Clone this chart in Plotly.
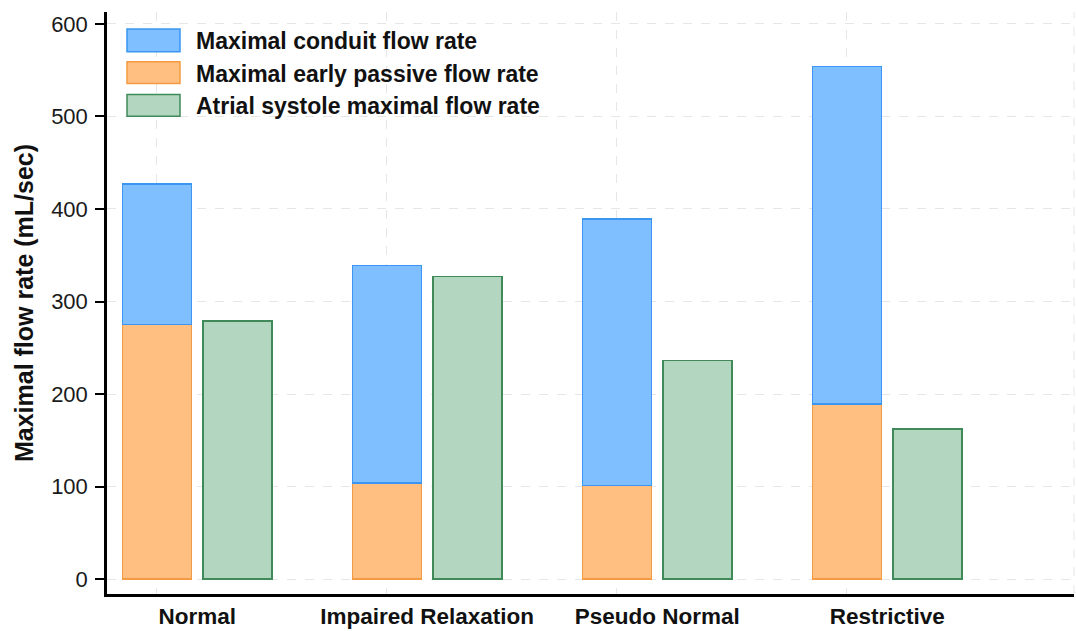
import plotly.graph_objects as go

categories = ["Normal", "Impaired Relaxation", "Pseudo Normal", "Restrictive"]
series_names = ["Maximal conduit flow rate", "Maximal early passive flow rate",
                "Atrial systole maximal flow rate"]
early_passive = [275, 104, 101, 189]
conduit = [152, 235, 288, 365]
atrial = [279, 327, 236, 162]
y_ticks = [0, 100, 200, 300, 400, 500, 600]

fills = ["#80bfff", "#ffbf80", "#b3d6c0"]
edges = ["#3a96f2", "#f59a42", "#3f8a58"]

pos = [1, 2, 3, 4]
off = 0.35
w = 0.3

fig = go.Figure()
fig.add_bar(x=pos, y=early_passive, width=w, name=series_names[1],
            marker=dict(color=fills[1], line=dict(color=edges[1], width=1.5)))
fig.add_bar(x=pos, y=conduit, width=w, name=series_names[0],
            marker=dict(color=fills[0], line=dict(color=edges[0], width=1.5)))
fig.add_bar(x=[p + off for p in pos], y=atrial, width=w, name=series_names[2],
            marker=dict(color=fills[2], line=dict(color=edges[2], width=1.5)))

font = "Liberation Sans, Arial, sans-serif"

L, R, T, B = 107, 2, 12, 33
PW, PH = 1076 - L - R, 631 - T - B

# custom legend (paper coordinates of the plot area)
def px(x):
    return (x - L) / float(PW)

def py(y):
    return (631 - B - y) / float(PH)

rows = [(29, 52, 0), (62, 84, 1), (95, 117, 2)]
shapes = []
annotations = []
for top, bot, i in rows:
    shapes.append(dict(type="rect", xref="paper", yref="paper", x0=px(127), x1=px(180),
                       y0=py(bot), y1=py(top), fillcolor=fills[i],
                       line=dict(color=edges[i], width=1.5)))
    annotations.append(dict(xref="paper", yref="paper", x=px(194), y=py((top + bot) / 2 + 1),
                            xanchor="left", yanchor="middle", showarrow=False,
                            text="<b>%s</b>" % series_names[i],
                            font=dict(family=font, size=23, color="#111")))
shapes.append(dict(type="line", xref="paper", yref="paper", x0=1, x1=1, y0=0, y1=1,
                   line=dict(color="#e6e6e6", width=1, dash="dash")))

fig.update_layout(
    width=1076, height=631,
    margin=dict(l=L, r=R, t=T, b=B),
    barmode="stack",
    showlegend=False,
    plot_bgcolor="white", paper_bgcolor="white",
    font=dict(family=font, color="#111"),
    shapes=shapes, annotations=annotations,
    xaxis=dict(range=[0.783, 4.987], tickvals=[p + off / 2 for p in pos],
               ticktext=["<b>%s</b>" % c for c in categories],
               tickfont=dict(size=22.5, color="#111"), showgrid=False,
               showline=True, linecolor="black", linewidth=2.5, ticks="",
               minor=dict(tick0=1, dtick=1, showgrid=True, gridcolor="#e6e6e6",
                          griddash="dash", gridwidth=1, ticks=""),
               zeroline=False),
    yaxis=dict(range=[-16.1, 612.9], tickvals=y_ticks, tickfont=dict(size=22, color="#1a1a1a"),
               showline=True, linecolor="black", linewidth=2.5, ticks="outside",
               ticklen=9, tickwidth=2, tickcolor="black", ticklabelstandoff=3,
               showgrid=True, gridcolor="#e6e6e6", griddash="dash", gridwidth=1,
               zeroline=False,
               title=dict(text="<b>Maximal flow rate (mL/sec)</b>",
                          font=dict(size=25, color="#111"), standoff=11)),
)

fig.write_html("out.html", config={"displayModeBar": False},
               post_script="document.body.style.margin='0';document.body.style.overflow='hidden';")
